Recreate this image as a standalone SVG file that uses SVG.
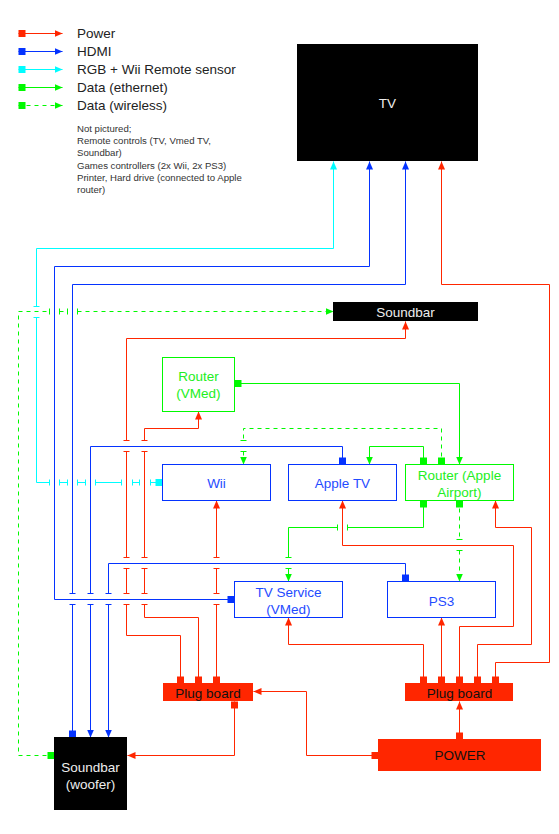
<svg xmlns="http://www.w3.org/2000/svg" width="559" height="834" viewBox="0 0 559 834">
<style>
text{font-family:"Liberation Sans",Arial,Helvetica,sans-serif}
.lbl{font-size:13.5px;text-anchor:middle}
.leg{font-size:13.5px;fill:#222}
.note{font-size:9.6px;fill:#333}
.w{fill:#eeeeee}
.k{fill:#111111}
.tb{fill:#1f4bff}
.tg{fill:#22ee22}
.bb{fill:#ffffff;stroke:#0433ff;stroke-width:1}
.gb{fill:#ffffff;stroke:#00f900;stroke-width:1}
.blk{fill:#000000}
.red{fill:#ff2600}
.c path{fill:none;stroke-width:1}
.R{stroke:#ff2600}
.B{stroke:#0433ff}
.C{stroke:#00fdff}
.G{stroke:#00f900}
.D{stroke-dasharray:4,4}
</style>
<defs>
<marker id="aR" viewBox="0 -5 10 10" refX="8" refY="0" markerWidth="10" markerHeight="10" orient="auto" markerUnits="userSpaceOnUse"><path d="M0,-3.5L8,0L0,3.5Z" fill="#ff2600"/></marker>
<marker id="aB" viewBox="0 -5 10 10" refX="8" refY="0" markerWidth="10" markerHeight="10" orient="auto" markerUnits="userSpaceOnUse"><path d="M0,-3.5L8,0L0,3.5Z" fill="#0433ff"/></marker>
<marker id="aC" viewBox="0 -5 10 10" refX="8" refY="0" markerWidth="10" markerHeight="10" orient="auto" markerUnits="userSpaceOnUse"><path d="M0,-3.5L8,0L0,3.5Z" fill="#00fdff"/></marker>
<marker id="aG" viewBox="0 -5 10 10" refX="8" refY="0" markerWidth="10" markerHeight="10" orient="auto" markerUnits="userSpaceOnUse"><path d="M0,-3.5L8,0L0,3.5Z" fill="#00f900"/></marker>
<marker id="sR" viewBox="-1 -5 10 10" refX="0" refY="0" markerWidth="10" markerHeight="10" orient="auto" markerUnits="userSpaceOnUse"><rect x="0" y="-3.5" width="7" height="7" fill="#ff2600"/></marker>
<marker id="sB" viewBox="-1 -5 10 10" refX="0" refY="0" markerWidth="10" markerHeight="10" orient="auto" markerUnits="userSpaceOnUse"><rect x="0" y="-3.5" width="7" height="7" fill="#0433ff"/></marker>
<marker id="sC" viewBox="-1 -5 10 10" refX="0" refY="0" markerWidth="10" markerHeight="10" orient="auto" markerUnits="userSpaceOnUse"><rect x="0" y="-3.5" width="7" height="7" fill="#00fdff"/></marker>
<marker id="sG" viewBox="-1 -5 10 10" refX="0" refY="0" markerWidth="10" markerHeight="10" orient="auto" markerUnits="userSpaceOnUse"><rect x="0" y="-3.5" width="7" height="7" fill="#00f900"/></marker>
<marker id="tR" viewBox="-5 -5 10 10" refX="0" refY="0" markerWidth="10" markerHeight="10" orient="auto" markerUnits="userSpaceOnUse"><path d="M0,-3V3" stroke="#ff2600" stroke-width="1"/></marker>
<marker id="tB" viewBox="-5 -5 10 10" refX="0" refY="0" markerWidth="10" markerHeight="10" orient="auto" markerUnits="userSpaceOnUse"><path d="M0,-3V3" stroke="#0433ff" stroke-width="1"/></marker>
<marker id="tC" viewBox="-5 -5 10 10" refX="0" refY="0" markerWidth="10" markerHeight="10" orient="auto" markerUnits="userSpaceOnUse"><path d="M0,-3V3" stroke="#00fdff" stroke-width="1"/></marker>
<marker id="tG" viewBox="-5 -5 10 10" refX="0" refY="0" markerWidth="10" markerHeight="10" orient="auto" markerUnits="userSpaceOnUse"><path d="M0,-3V3" stroke="#00f900" stroke-width="1"/></marker>
</defs>
<rect width="559" height="834" fill="#ffffff"/>

<g id="legend">
<g class="c" transform="translate(0.5 0.5)">
<path class="R" d="M18,33H62" marker-start="url(#sR)" marker-end="url(#aR)"/>
<path class="B" d="M18,51H62" marker-start="url(#sB)" marker-end="url(#aB)"/>
<path class="C" d="M18,69H62" marker-start="url(#sC)" marker-end="url(#aC)"/>
<path class="G" d="M18,87H62" marker-start="url(#sG)" marker-end="url(#aG)"/>
<path class="G D" d="M18,105H62" marker-start="url(#sG)" marker-end="url(#aG)"/>
</g>
<text class="leg" x="77" y="38">Power</text>
<text class="leg" x="77" y="56">HDMI</text>
<text class="leg" x="77" y="74">RGB + Wii Remote sensor</text>
<text class="leg" x="77" y="92">Data (ethernet)</text>
<text class="leg" x="77" y="110">Data (wireless)</text>
<text class="note" x="77" y="131.5">Not pictured;</text>
<text class="note" x="77" y="144">Remote controls (TV, Vmed TV,</text>
<text class="note" x="77" y="156">Soundbar)</text>
<text class="note" x="77" y="168.5">Games controllers (2x Wii, 2x PS3)</text>
<text class="note" x="77" y="181">Printer, Hard drive (connected to Apple</text>
<text class="note" x="77" y="193">router)</text>
</g>

<g id="connectors" class="c" transform="translate(0.5 0.5)">
<!-- cyan: Wii -> TV -->
<path class="C" d="M162,482H150" marker-start="url(#sC)" marker-end="url(#tC)"/>
<path class="C" d="M139,482H132" marker-start="url(#tC)" marker-end="url(#tC)"/>
<path class="C" d="M121,482H95" marker-start="url(#tC)" marker-end="url(#tC)"/>
<path class="C" d="M85,482H77" marker-start="url(#tC)" marker-end="url(#tC)"/>
<path class="C" d="M67,482H59" marker-start="url(#tC)" marker-end="url(#tC)"/>
<path class="C" d="M49,482H36V317" marker-start="url(#tC)" marker-end="url(#tC)"/>
<path class="C" d="M36,306V248H333V161" marker-start="url(#tC)" marker-end="url(#aC)"/>
<!-- blue: TV Service -> TV -->
<path class="B" d="M234,599H54V266H369V161" marker-start="url(#sB)" marker-end="url(#aB)"/>
<!-- blue: woofer -> TV -->
<path class="B" d="M72,737V604" marker-start="url(#sB)" marker-end="url(#tB)"/>
<path class="B" d="M72,593V284H405V161" marker-start="url(#tB)" marker-end="url(#aB)"/>
<!-- blue: Apple TV -> woofer -->
<path class="B" d="M342,464V446H90V593" marker-start="url(#sB)" marker-end="url(#tB)"/>
<path class="B" d="M90,604V737" marker-start="url(#tB)" marker-end="url(#aB)"/>
<!-- blue: PS3 -> woofer -->
<path class="B" d="M405,581V563H108V593" marker-start="url(#sB)" marker-end="url(#tB)"/>
<path class="B" d="M108,604V737" marker-start="url(#tB)" marker-end="url(#aB)"/>
<!-- red: plug board L -> Soundbar -->
<path class="R" d="M180,683V635H126V604" marker-start="url(#sR)" marker-end="url(#tR)"/>
<path class="R" d="M126,593V568" marker-start="url(#tR)" marker-end="url(#tR)"/>
<path class="R" d="M126,557V451" marker-start="url(#tR)" marker-end="url(#tR)"/>
<path class="R" d="M126,440V338H405V321" marker-start="url(#tR)" marker-end="url(#aR)"/>
<!-- red: plug board L -> Router VMed -->
<path class="R" d="M198,683V617H144V604" marker-start="url(#sR)" marker-end="url(#tR)"/>
<path class="R" d="M144,593V568" marker-start="url(#tR)" marker-end="url(#tR)"/>
<path class="R" d="M144,557V451" marker-start="url(#tR)" marker-end="url(#tR)"/>
<path class="R" d="M144,440V428H198V411" marker-start="url(#tR)" marker-end="url(#aR)"/>
<!-- red: plug board L -> Wii -->
<path class="R" d="M216,683V604" marker-start="url(#sR)" marker-end="url(#tR)"/>
<path class="R" d="M216,593V568" marker-start="url(#tR)" marker-end="url(#tR)"/>
<path class="R" d="M216,557V500" marker-start="url(#tR)" marker-end="url(#aR)"/>
<!-- red: plug board L -> woofer -->
<path class="R" d="M234,701V755H127" marker-start="url(#sR)" marker-end="url(#aR)"/>
<!-- red: POWER -> plug board L -->
<path class="R" d="M378,755H306V691H253" marker-start="url(#sR)" marker-end="url(#aR)"/>
<!-- red: POWER -> plug board R -->
<path class="R" d="M459,739V701" marker-start="url(#sR)" marker-end="url(#aR)"/>
<!-- red: plug board R -> TV Service -->
<path class="R" d="M423,683V644H288V617" marker-start="url(#sR)" marker-end="url(#aR)"/>
<!-- red: plug board R -> PS3 -->
<path class="R" d="M441,683V617" marker-start="url(#sR)" marker-end="url(#aR)"/>
<!-- red: plug board R -> Apple TV -->
<path class="R" d="M459,683V626H513V545H342V500" marker-start="url(#sR)" marker-end="url(#aR)"/>
<!-- red: plug board R -> Router Airport -->
<path class="R" d="M477,683V644H531V527H495V500" marker-start="url(#sR)" marker-end="url(#aR)"/>
<!-- red: plug board R -> TV -->
<path class="R" d="M495,683V662H549V284H441V161" marker-start="url(#sR)" marker-end="url(#aR)"/>
<!-- green: Router VMed -> Airport -->
<path class="G" d="M234,383H459V464" marker-start="url(#sG)" marker-end="url(#aG)"/>
<!-- green: Airport -> Apple TV -->
<path class="G" d="M423,464V446H369V464" marker-start="url(#sG)" marker-end="url(#aG)"/>
<!-- green dashed: Airport -> Wii -->
<path class="G D" d="M441,464V428H243V440" marker-start="url(#sG)" marker-end="url(#tG)"/>
<path class="G D" d="M243,451V464" marker-start="url(#tG)" marker-end="url(#aG)"/>
<!-- green: Airport -> TV Service -->
<path class="G" d="M423,500V527H347" marker-start="url(#sG)" marker-end="url(#tG)"/>
<path class="G" d="M337,527H288V557" marker-start="url(#tG)" marker-end="url(#tG)"/>
<path class="G" d="M288,568V581" marker-start="url(#tG)" marker-end="url(#aG)"/>
<!-- green dashed: Airport -> PS3 -->
<path class="G D" d="M459,500V539" marker-start="url(#sG)" marker-end="url(#tG)"/>
<path class="G D" d="M459,550V581" marker-start="url(#tG)" marker-end="url(#aG)"/>
<!-- green dashed: woofer -> Soundbar -->
<path class="G D" d="M54,755H18V311H49" marker-start="url(#sG)" marker-end="url(#tG)"/>
<path class="G D" d="M59,311H67" marker-start="url(#tG)" marker-end="url(#tG)"/>
<path class="G D" d="M77,311H333" marker-start="url(#tG)" marker-end="url(#aG)"/>
</g>

<g id="tv"><rect class="blk" x="297" y="44" width="181" height="117"/><text class="lbl w" x="387.5" y="108">TV</text></g>
<g id="soundbar"><rect class="blk" x="333" y="302" width="145" height="19"/><text class="lbl w" x="405.5" y="316.5">Soundbar</text></g>
<g id="router-vmed" transform="translate(0.5 0.5)"><rect class="gb" x="162" y="357" width="72" height="54"/><text class="lbl tg" x="198" y="380">Router</text><text class="lbl tg" x="198" y="397">(VMed)</text></g>
<g id="wii" transform="translate(0.5 0.5)"><rect class="bb" x="162" y="464" width="108" height="36"/><text class="lbl tb" x="216" y="487">Wii</text></g>
<g id="apple-tv" transform="translate(0.5 0.5)"><rect class="bb" x="288" y="464" width="108" height="36"/><text class="lbl tb" x="342" y="487">Apple TV</text></g>
<g id="router-airport" transform="translate(0.5 0.5)"><rect class="gb" x="405" y="464" width="108" height="36"/><text class="lbl tg" x="459" y="479">Router (Apple</text><text class="lbl tg" x="459" y="496.5">Airport)</text></g>
<g id="tv-service" transform="translate(0.5 0.5)"><rect class="bb" x="234" y="581" width="108" height="36"/><text class="lbl tb" x="288" y="596">TV Service</text><text class="lbl tb" x="288" y="613">(VMed)</text></g>
<g id="ps3" transform="translate(0.5 0.5)"><rect class="bb" x="387" y="581" width="108" height="36"/><text class="lbl tb" x="441" y="605">PS3</text></g>
<g id="plug-board-left"><rect class="red" x="163" y="683" width="90" height="18"/><text class="lbl k" x="208" y="697.5">Plug board</text></g>
<g id="plug-board-right"><rect class="red" x="405" y="683" width="108" height="18"/><text class="lbl k" x="459.5" y="697.5">Plug board</text></g>
<g id="power"><rect class="red" x="378" y="739" width="163" height="32"/><text class="lbl k" x="460" y="760">POWER</text></g>
<g id="soundbar-woofer"><rect class="blk" x="54" y="737" width="73" height="73"/><text class="lbl w" x="90.5" y="771.5">Soundbar</text><text class="lbl w" x="90.5" y="789">(woofer)</text></g>
</svg>
